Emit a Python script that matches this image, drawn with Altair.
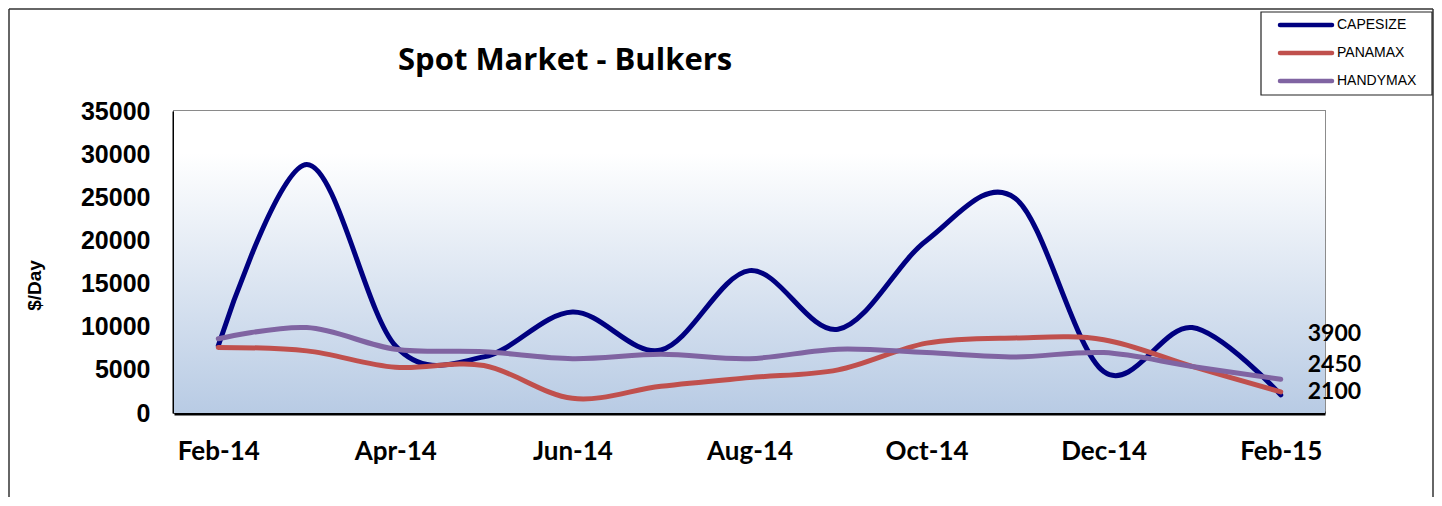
import altair as alt
import pandas as pd

months = ["Feb-14", "Mar-14", "Apr-14", "May-14", "Jun-14", "Jul-14", "Aug-14",
          "Sep-14", "Oct-14", "Nov-14", "Dec-14", "Jan-15", "Feb-15"]
shown_months = ["Feb-14", "Apr-14", "Jun-14", "Aug-14", "Oct-14", "Dec-14", "Feb-15"]
series_names = ["CAPESIZE", "PANAMAX", "HANDYMAX"]
series_colors = ["#000080", "#c0504d", "#8064a2"]

capesize = [7800, 28800, 7800, 6500, 11700, 7300, 16500, 9700, 20000, 24900, 4800, 9900, 2100]
panamax = [7600, 7200, 5300, 5500, 1700, 3100, 4100, 5000, 8100, 8700, 8500, 5400, 2450]
handymax = [8600, 9900, 7400, 7100, 6300, 6800, 6300, 7400, 7000, 6500, 7000, 5400, 3900]

y_ticks = [0, 5000, 10000, 15000, 20000, 25000, 30000, 35000]
title_text = "Spot Market - Bulkers"

rows = []
for name, vals in zip(series_names, [capesize, panamax, handymax]):
    for m, v in zip(months, vals):
        rows.append({"month": m, "series": name, "value": v})
df = pd.DataFrame(rows)
legend_df = pd.DataFrame({"series": series_names, "idx": list(range(len(series_names)))})
one = pd.DataFrame({"a": [0]})

W, H = 1151, 302
PAD_L, PAD_T, PAD_R, PAD_B = 166, 103, 109, 84

color_scale = alt.Scale(domain=series_names, range=series_colors)

x_enc = alt.X("month:O", sort=months,
              scale=alt.Scale(domain=months, padding=0.5),
              axis=alt.Axis(values=shown_months, title=None, labelAngle=0,
                            labelFont="Lato", labelFontWeight="bold", labelFontSize=26,
                            labelColor="black", labelPadding=25, ticks=False,
                            domainColor="black", domainWidth=4, grid=False))
y_enc = alt.Y("value:Q",
              scale=alt.Scale(domain=[0, 35000], nice=False),
              axis=alt.Axis(values=y_ticks, title="$/Day", format="d",
                            labelFont="Liberation Sans", labelFontWeight="bold",
                            labelFontSize=25, labelColor="black", labelPadding=24,
                            ticks=False, domainColor="black", domainWidth=4,
                            grid=True, gridColor="#858585", gridWidth=1.6,
                            titleFont="Liberation Sans", titleFontWeight="bold",
                            titleFontSize=19, titleColor="black",
                            titleX=-140, titleY=174, titleAngle=-90,
                            titleAlign="center", titleBaseline="middle"))
color_enc = alt.Color("series:N", scale=color_scale, legend=None)

background = alt.Chart(one).mark_rect(
    fill=alt.Gradient(gradient="linear",
                      stops=[alt.GradientStop(color="#ffffff", offset=0),
                             alt.GradientStop(color="#ffffff", offset=0.14),
                             alt.GradientStop(color="#b8cbe4", offset=1)],
                      x1=0, x2=0, y1=0, y2=1)
).encode(x=alt.value(0), x2=alt.value(W), y=alt.value(0), y2=alt.value(H))

# outer chart frame (left, top, right edges; bottom runs off the page)
FL, FT, FR, FB = -(PAD_L - 1), -(PAD_T - 1), W + PAD_R - 1, H + PAD_B
frame_style = dict(color="#333333", strokeWidth=1.5)
frame_left = alt.Chart(one).mark_rule(**frame_style).encode(
    x=alt.value(FL), y=alt.value(FT), y2=alt.value(FB))
frame_top = alt.Chart(one).mark_rule(**frame_style).encode(
    x=alt.value(FL), x2=alt.value(FR), y=alt.value(FT))
frame_right = alt.Chart(one).mark_rule(**frame_style).encode(
    x=alt.value(FR), y=alt.value(FT), y2=alt.value(FB))

title = alt.Chart(one).mark_text(
    text=title_text, align="left", baseline="alphabetic",
    font="Open Sans", fontWeight="bold", fontSize=31, color="black"
).encode(x=alt.value(224), y=alt.value(-41))

lines = []
for name in series_names:
    lines.append(
        alt.Chart(df).transform_filter(alt.datum.series == name)
        .mark_line(interpolate="cardinal", strokeWidth=5, strokeCap="round")
        .encode(x=x_enc, y=y_enc, color=color_enc)
    )

label_dy = {"HANDYMAX": -45, "PANAMAX": -27, "CAPESIZE": -3}
labels = []
for name in ["HANDYMAX", "PANAMAX", "CAPESIZE"]:
    labels.append(
        alt.Chart(df).transform_filter(
            (alt.datum.series == name) & (alt.datum.month == "Feb-15")
        ).mark_text(align="left", baseline="middle", dx=27, dy=label_dy[name],
                    font="Lato", fontWeight="bold", fontSize=23, color="black")
        .encode(x=alt.X("month:O", sort=months), y=alt.Y("value:Q"),
                text=alt.Text("value:Q", format="d"))
    )

# manual legend (box, line swatches, labels)
LX = FR - 172
legend_box = alt.Chart(one).mark_rect(
    fill="white", stroke="#222222", strokeWidth=1.2
).encode(x=alt.value(LX), x2=alt.value(FR - 1), y=alt.value(-99), y2=alt.value(-16))
legend_lines = alt.Chart(legend_df).transform_calculate(
    ly="-86 + 28 * datum.idx"
).mark_rule(strokeWidth=4.5, strokeCap="round").encode(
    x=alt.value(LX + 19), x2=alt.value(LX + 71),
    y=alt.Y("ly:Q", scale=None),
    color=alt.Color("series:N", scale=color_scale, legend=None))
legend_text = alt.Chart(legend_df).transform_calculate(
    ly="-86 + 28 * datum.idx"
).mark_text(align="left", baseline="middle", font="Liberation Sans",
            fontSize=14, color="black").encode(
    x=alt.value(LX + 76), y=alt.Y("ly:Q", scale=None), text="series:N")

chart = alt.layer(
    background, frame_left, frame_top, frame_right, title,
    *lines, *labels, legend_box, legend_lines, legend_text
).properties(
    width=W, height=H,
    autosize=alt.AutoSizeParams(type="none"),
    padding={"left": PAD_L, "top": PAD_T, "right": PAD_R, "bottom": PAD_B},
    background="white",
).configure_view(stroke="#8c8c8c", strokeWidth=2)

chart.save("out.html", embed_options={"renderer": "svg", "actions": False})
